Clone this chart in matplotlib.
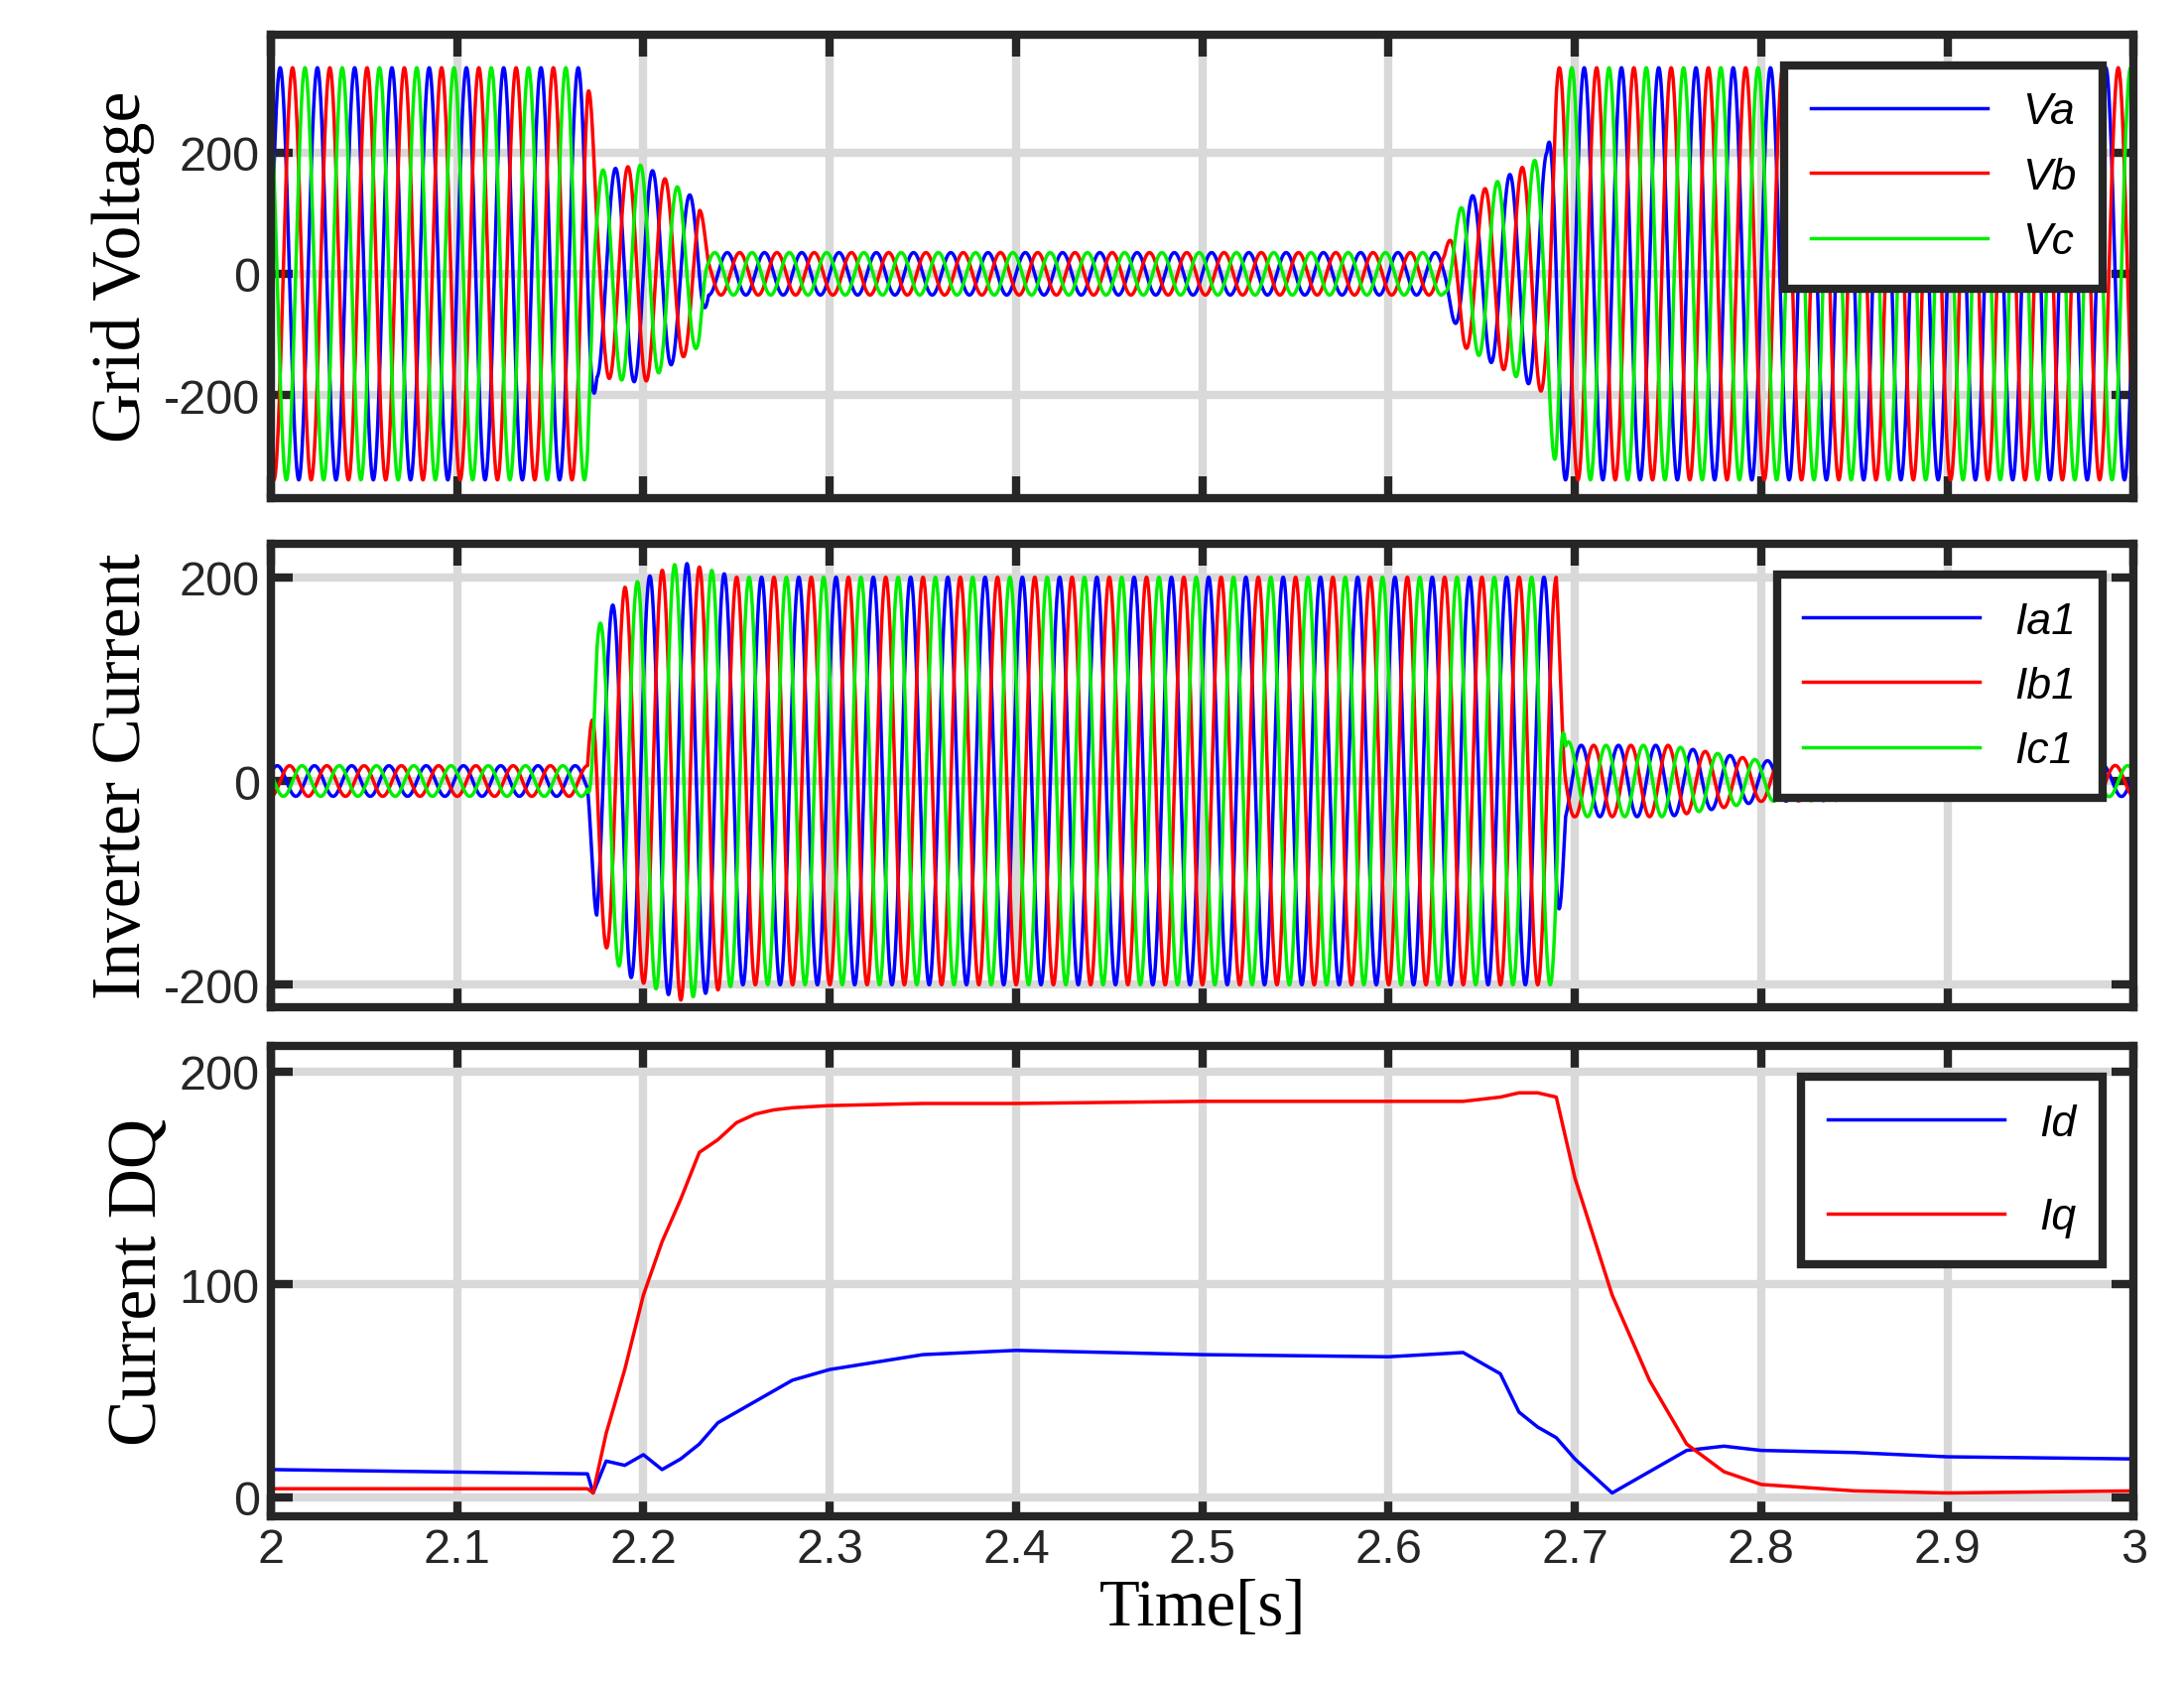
import numpy as np
import matplotlib
matplotlib.use("Agg")
import matplotlib.pyplot as plt

# ---- data ----
freq_hz = 50.0
t_start, t_end = 2.0, 3.0
# grid voltage amplitude envelope (time, amplitude)
v_env_t = [2.0, 2.17, 2.175, 2.2, 2.23, 2.235, 2.63, 2.64, 2.68, 2.685, 2.69, 3.0]
v_env_a = [340, 340, 170, 180, 120, 35, 35, 120, 190, 200, 340, 340]
# inverter current amplitude envelope
i_env_t = [2.0, 2.17, 2.175, 2.19, 2.22, 2.25, 2.69, 2.695, 2.70, 2.75, 2.8, 3.0]
i_env_a = [15, 15, 150, 190, 215, 200, 200, 40, 35, 35, 20, 15]
# DQ currents
dq_t  = [2.0, 2.17, 2.173, 2.18, 2.19, 2.2, 2.21, 2.22, 2.23, 2.24, 2.25, 2.26, 2.27, 2.28, 2.3, 2.35, 2.4, 2.5, 2.6, 2.64, 2.66, 2.67, 2.68, 2.69, 2.70, 2.72, 2.74, 2.76, 2.78, 2.8, 2.85, 2.9, 3.0]
id_v  = [13, 11, 2, 17, 15, 20, 13, 18, 25, 35, 40, 45, 50, 55, 60, 67, 69, 67, 66, 68, 58, 40, 33, 28, 18, 2, 12, 22, 24, 22, 21, 19, 18]
iq_v  = [4, 4, 2, 30, 60, 95, 120, 140, 162, 168, 176, 180, 182, 183, 184, 185, 185, 186, 186, 186, 188, 190, 190, 188, 150, 95, 55, 25, 12, 6, 3, 2, 3]
volt_labels = ["Va", "Vb", "Vc"]
cur_labels = ["Ia1", "Ib1", "Ic1"]
dq_labels = ["Id", "Iq"]
xticks = [2, 2.1, 2.2, 2.3, 2.4, 2.5, 2.6, 2.7, 2.8, 2.9, 3]
colors = ["#0000ff", "#ff0000", "#00ee00"]

t = np.linspace(t_start, t_end, 20000)
va = np.interp(t, v_env_t, v_env_a)
ia = np.interp(t, i_env_t, i_env_a)
phases = [0, -2*np.pi/3, 2*np.pi/3]

fig = plt.figure(figsize=(22.01, 16.99), dpi=100)
rects = [(0.124, 0.704, 0.853, 0.275), (0.124, 0.402, 0.853, 0.275), (0.124, 0.100, 0.853, 0.279)]
axs = [fig.add_axes(r) for r in rects]

def style(ax, ylabel, yticks, ylim):
    ax.set_xlim(t_start, t_end)
    ax.set_ylim(*ylim)
    ax.set_xticks(xticks)
    ax.set_yticks(yticks)
    ax.set_yticklabels([str(v) for v in yticks])
    ax.grid(True, color="#d9d9d9", linewidth=6)
    ax.set_axisbelow(True)
    for s in ax.spines.values():
        s.set_linewidth(6)
        s.set_color("#262626")
    ax.tick_params(direction="in", length=16, width=6, labelsize=35, colors="#262626", top=True, right=True, pad=8)
    for lab in ax.get_xticklabels() + ax.get_yticklabels():
        lab.set_fontfamily("Liberation Sans")
    ax.set_ylabel(ylabel, fontfamily="Liberation Serif", fontsize=50, labelpad=6)

for k in range(3):
    axs[0].plot(t, va*np.sin(2*np.pi*freq_hz*t + phases[k]), color=colors[k], lw=2.5, label=volt_labels[k])
    axs[1].plot(t, ia*np.sin(2*np.pi*freq_hz*t + phases[k] + 0.5), color=colors[k], lw=2.5, label=cur_labels[k])
axs[2].plot(dq_t, id_v, color=colors[0], lw=2.5, label=dq_labels[0])
axs[2].plot(dq_t, iq_v, color=colors[1], lw=2.5, label=dq_labels[1])

style(axs[0], "Grid Voltage", [-200, 0, 200], (-370, 395))
style(axs[1], "Inverter Current", [-200, 0, 200], (-222, 233))
style(axs[2], "Current DQ", [0, 100, 200], (-9, 212))
axs[0].set_xticklabels([]); axs[1].set_xticklabels([])
axs[2].set_xticklabels([str(x) for x in xticks])
axs[2].set_xlabel("Time[s]", fontfamily="Liberation Serif", fontsize=48, labelpad=4)

for ax, sp in zip(axs, [0.55, 0.55, 1.2]):
    leg = ax.legend(loc="upper right", prop={"family": "Liberation Sans", "style": "italic", "size": 32},
                    fancybox=False, edgecolor="#262626", framealpha=1, handlelength=4.0,
                    labelspacing=sp, borderpad=0.6, borderaxespad=0.7)
    leg.get_frame().set_linewidth(6)
    for line in leg.get_lines():
        line.set_linewidth(2.5)

fig.savefig("out.png", dpi=100)
